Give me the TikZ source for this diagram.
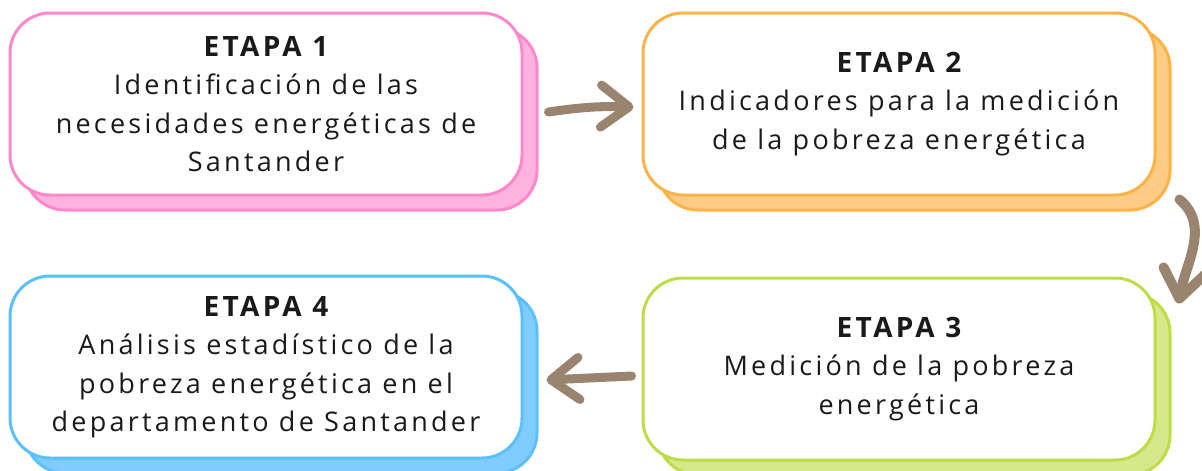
\documentclass[tikz,border=0pt]{standalone}
\usepackage{fontspec}
\setmainfont{Open Sans}[LetterSpace=12]
\usetikzlibrary{positioning, shadows, arrows.meta}

\definecolor{pinkline}{HTML}{FF88CC}
\definecolor{pinkfill}{HTML}{FFB3DE}
\definecolor{orangeline}{HTML}{FFB347}
\definecolor{orangefill}{HTML}{FFCC88}
\definecolor{greenline}{HTML}{BEDD44}
\definecolor{greenfill}{HTML}{D5E98C}
\definecolor{blueline}{HTML}{5BC0FF}
\definecolor{bluefill}{HTML}{80CCFF}
\definecolor{arrowbrown}{HTML}{9A8470}
\definecolor{textblack}{HTML}{1A1A1A}

\newcommand{\stagetitle}[1]{{\fontsize{28}{38.5}\selectfont\bfseries #1}}

\tikzstyle{stage} = [rectangle, rounded corners = 40pt, minimum width = 512pt, minimum height = 182pt, line width = 3pt, fill = white, text = textblack, text centered, align = center, font = \fontsize{27}{38.5}\selectfont]
\tikzstyle{pinkstage} = [stage, draw = pinkline, general shadow = {shadow xshift = 15pt, shadow yshift = -15pt, fill = pinkfill, draw = pinkline, line width = 3pt}]
\tikzstyle{orangestage} = [stage, draw = orangeline, general shadow = {shadow xshift = 15pt, shadow yshift = -15pt, fill = orangefill, draw = orangeline, line width = 3pt}]
\tikzstyle{greenstage} = [stage, draw = greenline, general shadow = {shadow xshift = 15pt, shadow yshift = -15pt, fill = greenfill, draw = greenline, line width = 3pt}]
\tikzstyle{bluestage} = [stage, draw = blueline, general shadow = {shadow xshift = 15pt, shadow yshift = -15pt, fill = bluefill, draw = blueline, line width = 3pt}]
\tikzstyle{arrow} = [line width = 9pt, draw = arrowbrown, line cap = round, -{Straight Barb[length = 28pt, width = 42pt, round]}]

\begin{document}
\begin{tikzpicture}

    \useasboundingbox (0,0) rectangle (1202pt,-471pt);

    \node(stage1)[pinkstage] at (266pt,-104pt) {\stagetitle{ETAPA 1}\\Identificación de las\\necesidades energéticas de\\Santander};
    \node(stage2)[orangestage, right=118pt of stage1] {\stagetitle{ETAPA 2}\\Indicadores para la medición\\de la pobreza energética};
    \node(stage3)[greenstage, below=80pt of stage2] {\stagetitle{ETAPA 3}\\Medición de la pobreza\\energética};
    \node(stage4)[bluestage, below=78pt of stage1] {\stagetitle{ETAPA 4}\\Análisis estadístico de la\\pobreza energética en el\\departamento de Santander};

    \draw[arrow]([xshift = 25pt, yshift = -8pt]stage1.east) to[bend left = 5] ([xshift = -8pt, yshift = -3pt]stage2.west);
    \draw[arrow, line width = 10pt]([xshift = 23pt, yshift = -3pt]stage2.south east) to[out = -40, in = 80] ([xshift = 22pt, yshift = -27pt]stage3.north east);
    \draw[arrow]([xshift = -10pt, yshift = -7pt]stage3.west) -- ([xshift = 23pt, yshift = -13pt]stage4.east);

\end{tikzpicture}
\end{document}
